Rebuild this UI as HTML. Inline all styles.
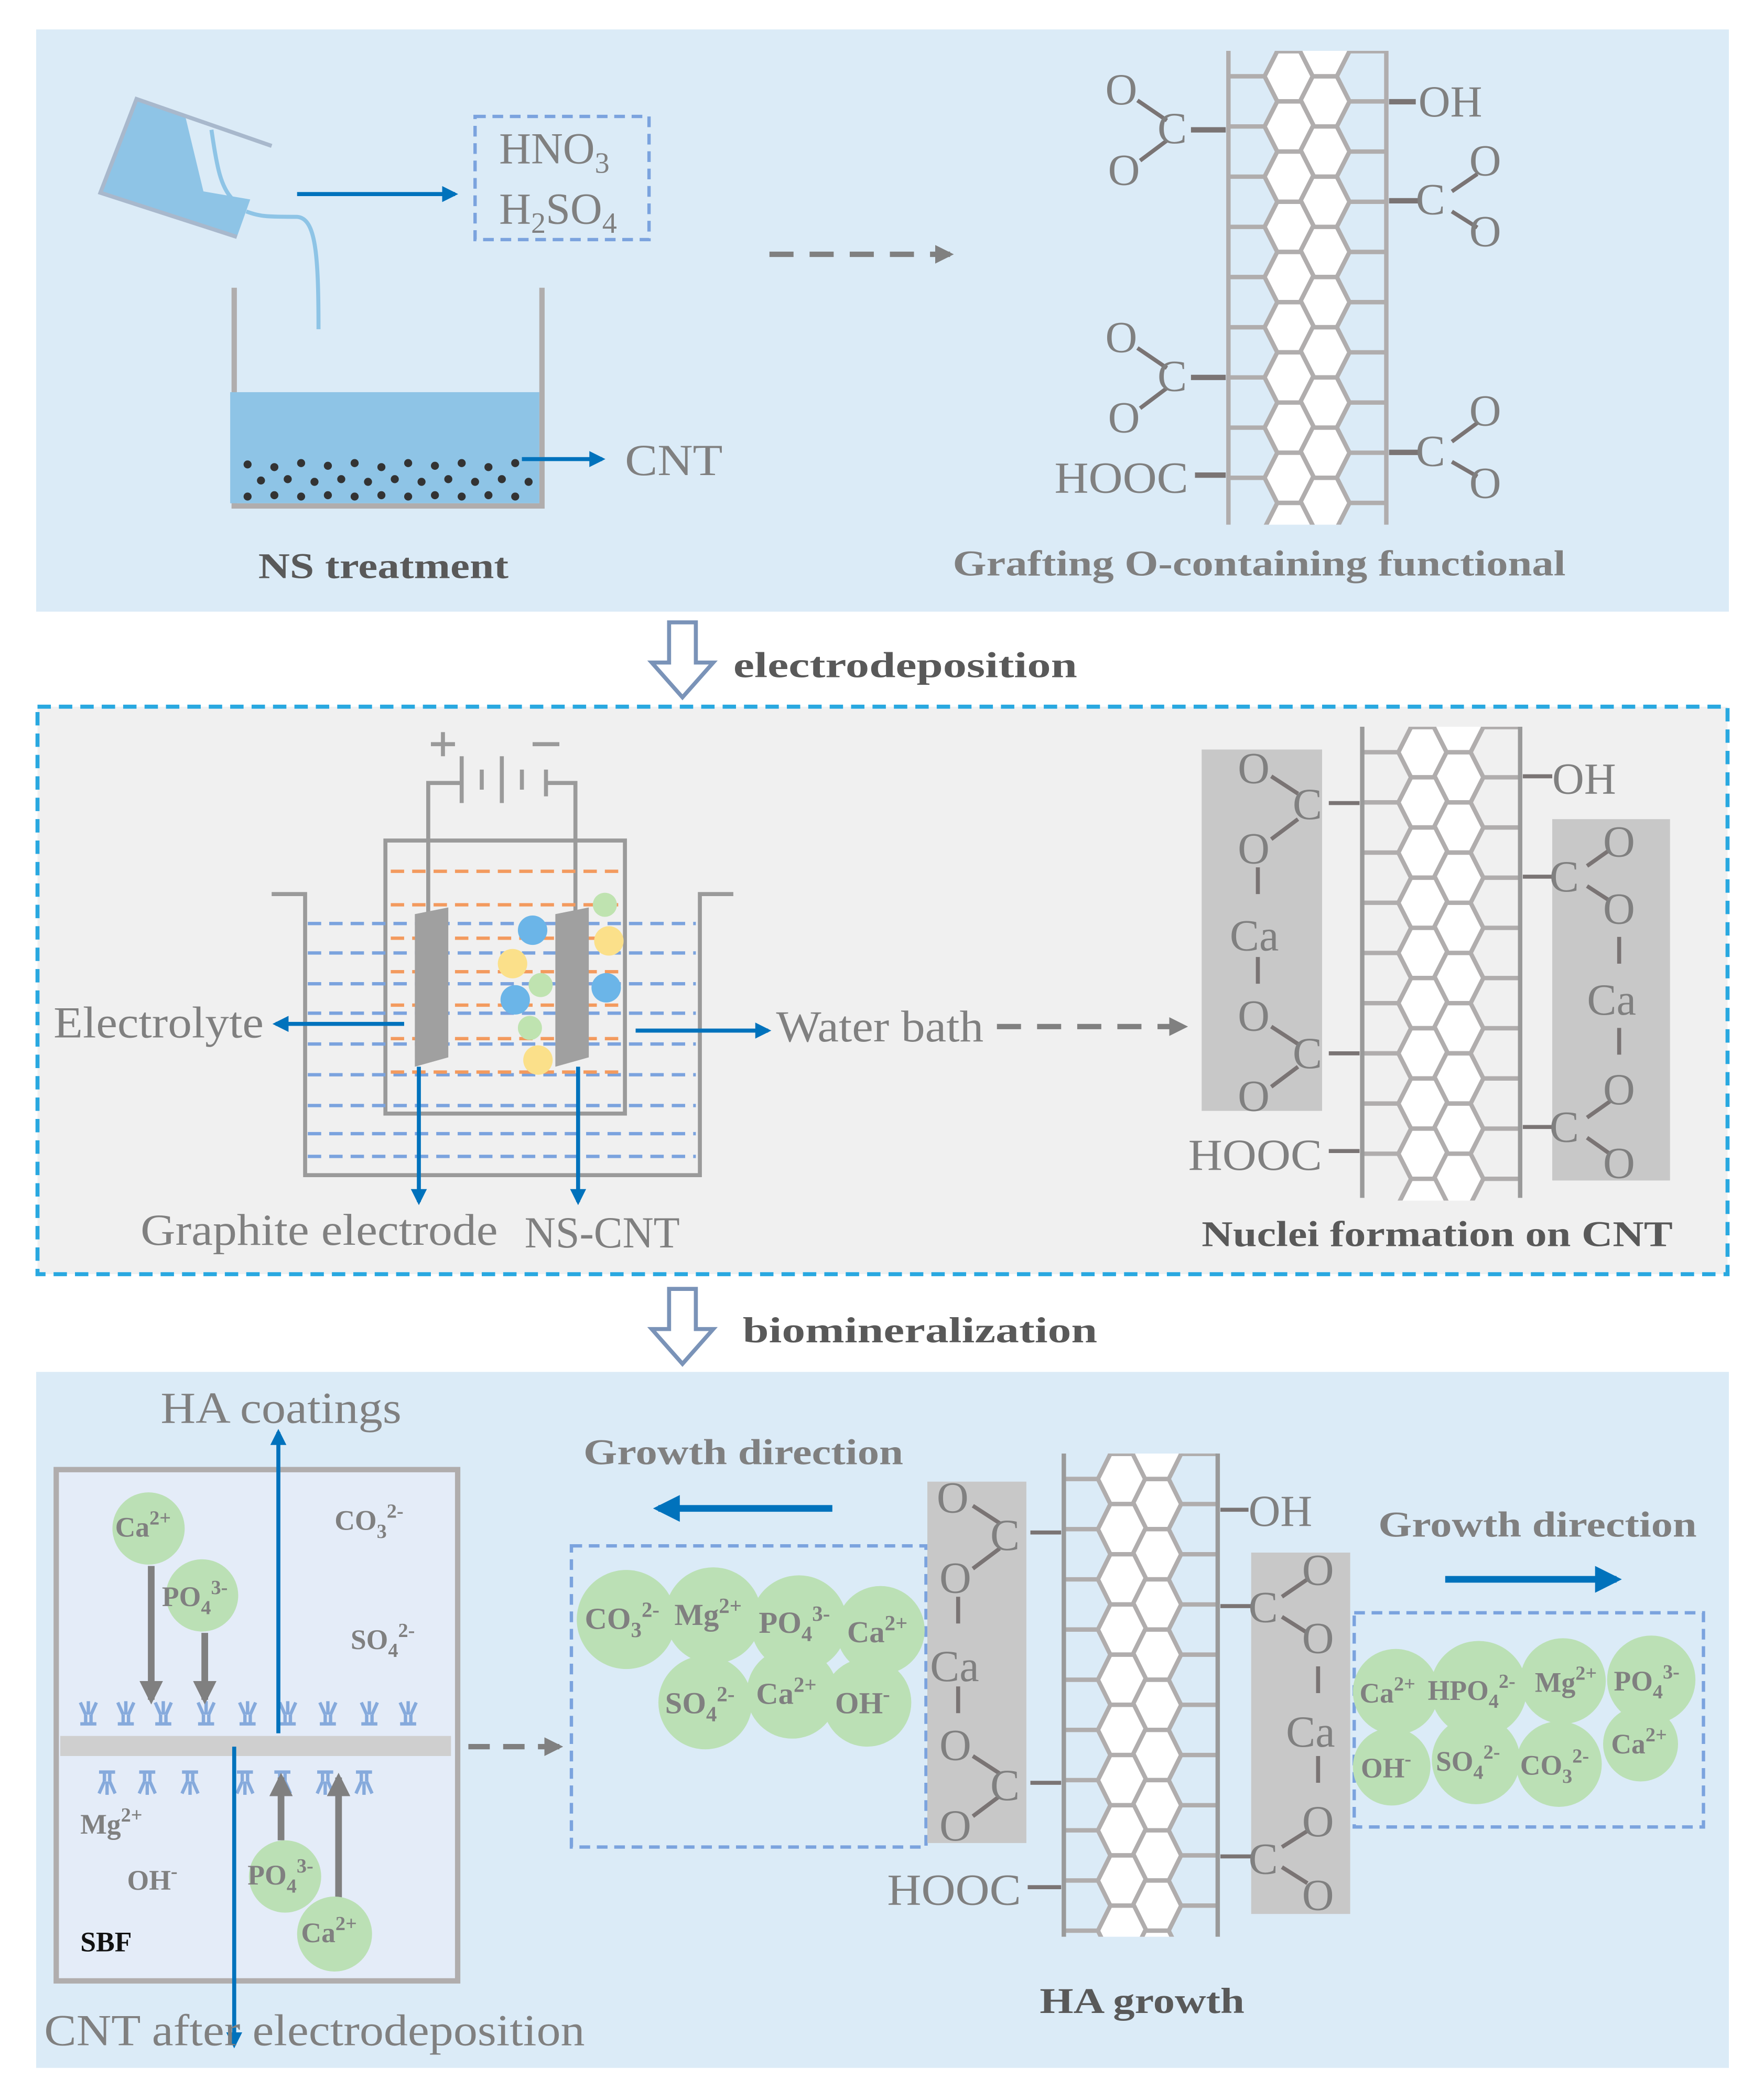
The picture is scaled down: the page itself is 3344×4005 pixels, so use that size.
<!DOCTYPE html>
<html><head><meta charset="utf-8"><style>html,body{margin:0;padding:0;background:#fff}svg{display:block}</style></head>
<body>
<svg width="3344" height="4005" viewBox="0 0 1310 1569" xmlns="http://www.w3.org/2000/svg" font-family="'Liberation Serif',serif">
<defs>
<g id="hp" fill="#fff" stroke="#b0adad" stroke-width="3.3">
<path d="M0,0 L27,0 M90.5,18.75 L118,18.75" fill="none"/>
<path d="M27,0 L36.5,-18.75 L54.5,-18.75 L64,0 L54.5,18.75 L36.5,18.75Z"/>
<path d="M53.5,18.75 L63,0 L81,0 L90.5,18.75 L81,37.5 L63,37.5Z"/>
</g>
<g id="tube">
<use href="#hp" y="0"/><use href="#hp" y="37.5"/><use href="#hp" y="75"/><use href="#hp" y="112.5"/><use href="#hp" y="150"/><use href="#hp" y="187.5"/><use href="#hp" y="225"/><use href="#hp" y="262.5"/><use href="#hp" y="300"/><use href="#hp" y="337.5"/><use href="#hp" y="375"/>
<use href="#hp" y="-37.5"/>
</g>
<clipPath id="c1"><rect x="900" y="38" width="150" height="354"/></clipPath>
<clipPath id="c2"><rect x="1005" y="543" width="150" height="354"/></clipPath>
<clipPath id="c3"><rect x="780" y="1086" width="150" height="361"/></clipPath>
<marker id="ab" viewBox="0 0 10 10" refX="8" refY="5" markerWidth="4" markerHeight="4" orient="auto"><path d="M0,0 L10,5 L0,10 Z" fill="#0072bc"/></marker>
<marker id="ag" viewBox="0 0 10 10" refX="8" refY="5" markerWidth="3.5" markerHeight="3.5" orient="auto"><path d="M0,0 L10,5 L0,10 Z" fill="#808080"/></marker>
<g id="rec" fill="none" stroke="#86aadc" stroke-width="2.5"><path d="M-6,-12 L-2,-3 M6,-12 L2,-3 M0,-13 L0,-3 M-2,-3 L-2,3 M2,-3 L2,3 M-6,4 L6,4"/></g>
</defs>
<g fill="#808080" font-size="33">
<!-- Panel 1 -->
<rect x="27" y="22" width="1265" height="435" fill="#dbebf7"/>
<polyline points="175,215 175,378 405,378 405,215" fill="none" stroke="#b0adad" stroke-width="4"/>
<rect x="172" y="293" width="231" height="83" fill="#8ec4e6"/>
<g fill="#333">
<circle cx="185" cy="347" r="3"/><circle cx="205" cy="349" r="3"/><circle cx="225" cy="346" r="3"/><circle cx="245" cy="348" r="3"/><circle cx="265" cy="346" r="3"/><circle cx="285" cy="349" r="3"/><circle cx="305" cy="346" r="3"/><circle cx="325" cy="348" r="3"/><circle cx="345" cy="346" r="3"/><circle cx="365" cy="349" r="3"/><circle cx="385" cy="346" r="3"/>
<circle cx="195" cy="359" r="3"/><circle cx="215" cy="358" r="3"/><circle cx="235" cy="360" r="3"/><circle cx="255" cy="358" r="3"/><circle cx="275" cy="360" r="3"/><circle cx="295" cy="358" r="3"/><circle cx="315" cy="360" r="3"/><circle cx="335" cy="358" r="3"/><circle cx="355" cy="360" r="3"/><circle cx="375" cy="358" r="3"/><circle cx="395" cy="360" r="3"/>
<circle cx="185" cy="371" r="3"/><circle cx="205" cy="370" r="3"/><circle cx="225" cy="371" r="3"/><circle cx="245" cy="370" r="3"/><circle cx="265" cy="371" r="3"/><circle cx="285" cy="370" r="3"/><circle cx="305" cy="371" r="3"/><circle cx="325" cy="370" r="3"/><circle cx="345" cy="371" r="3"/><circle cx="365" cy="370" r="3"/><circle cx="385" cy="371" r="3"/>
</g>
<polygon points="102,75 138,85 152,143 187,149 177,177 75,144" fill="#8ec4e6"/>
<polyline points="203,109 102,74 75,144 177,177" fill="none" stroke="#a8b8cc" stroke-width="3"/>
<path d="M158,97 C162,125 165,140 174,149" fill="none" stroke="#8ec4e6" stroke-width="3"/>
<path d="M184,158 C195,162 200,162 222,162 C236,163 238,190 238,246" fill="none" stroke="#8ec4e6" stroke-width="3"/>
<line x1="222" y1="145" x2="340" y2="145" stroke="#0072bc" stroke-width="3" marker-end="url(#ab)"/>
<rect x="355" y="87" width="130" height="92" fill="none" stroke="#7ba3de" stroke-width="2.5" stroke-dasharray="8,5"/>
<text x="373" y="122">HNO<tspan font-size="22" dy="7">3</tspan></text>
<text x="373" y="167">H<tspan font-size="22" dy="7">2</tspan><tspan dy="-7">SO</tspan><tspan font-size="22" dy="7">4</tspan></text>
<line x1="390" y1="343" x2="450" y2="343" stroke="#0072bc" stroke-width="3" marker-end="url(#ab)"/>
<text x="467" y="355" textLength="73" lengthAdjust="spacingAndGlyphs">CNT</text>
<text x="193" y="432" font-size="27" font-weight="bold" fill="#595959" textLength="187" lengthAdjust="spacingAndGlyphs">NS treatment</text>
<line x1="575" y1="190" x2="710" y2="190" stroke="#808080" stroke-width="4" stroke-dasharray="18,12" marker-end="url(#ag)"/>
<g clip-path="url(#c1)"><use href="#tube" x="918" y="57"/></g>
<line x1="918" y1="38" x2="918" y2="392" stroke="#b0adad" stroke-width="3.3"/>
<line x1="1036" y1="38" x2="1036" y2="392" stroke="#b0adad" stroke-width="3.3"/>
<g stroke="#7a7474" stroke-width="4">
<line x1="890" y1="97" x2="916" y2="97"/><line x1="1038" y1="76" x2="1058" y2="76"/><line x1="1038" y1="150" x2="1060" y2="150"/>
<line x1="890" y1="282" x2="916" y2="282"/><line x1="1038" y1="338" x2="1060" y2="338"/><line x1="893" y1="355" x2="916" y2="355"/>
</g>
<g stroke="#7a7474" stroke-width="3">
<line x1="850" y1="75" x2="872" y2="90"/><line x1="852" y1="120" x2="872" y2="105"/>
<line x1="850" y1="260" x2="872" y2="275"/><line x1="852" y1="305" x2="872" y2="290"/>
<line x1="1085" y1="143" x2="1104" y2="130"/><line x1="1085" y1="158" x2="1104" y2="170"/>
<line x1="1085" y1="330" x2="1104" y2="316"/><line x1="1085" y1="345" x2="1104" y2="356"/>
</g>
<text x="826" y="78">O</text><text x="865" y="107">C</text><text x="828" y="138">O</text>
<text x="1060" y="87">OH</text>
<text x="1058" y="160">C</text><text x="1098" y="131">O</text><text x="1098" y="184">O</text>
<text x="826" y="263">O</text><text x="865" y="292">C</text><text x="828" y="323">O</text>
<text x="1058" y="348">C</text><text x="1098" y="318">O</text><text x="1098" y="372">O</text>
<text x="788" y="368" textLength="100" lengthAdjust="spacingAndGlyphs">HOOC</text>
<text x="712" y="430" font-size="27" font-weight="bold" fill="#808080" textLength="458" lengthAdjust="spacingAndGlyphs">Grafting O-containing functional</text>

<!-- transition arrows -->
<polygon points="500,465 520,465 520,495 533,495 510,521 487,495 500,495" fill="#fff" stroke="#7a93b8" stroke-width="3"/>
<text x="548" y="506" font-size="27" font-weight="bold" fill="#595959" textLength="257" lengthAdjust="spacingAndGlyphs">electrodeposition</text>
<polygon points="500,963 520,963 520,993 533,993 510,1019 487,993 500,993" fill="#fff" stroke="#7a93b8" stroke-width="3"/>
<text x="555" y="1003" font-size="27" font-weight="bold" fill="#595959" textLength="265" lengthAdjust="spacingAndGlyphs">biomineralization</text>

<!-- Panel 2 -->
<rect x="28" y="528" width="1263" height="424" fill="#f0f0f0" stroke="#29a8e0" stroke-width="3" stroke-dasharray="10,6"/>
<g stroke="#9a9a9a" stroke-width="3" fill="none">
<polyline points="320,683 320,585 345,585"/><polyline points="430,683 430,585 408,585"/>
<line x1="345" y1="565" x2="345" y2="600"/><line x1="360" y1="575" x2="360" y2="590"/><line x1="375" y1="565" x2="375" y2="600"/><line x1="390" y1="575" x2="390" y2="590"/><line x1="408" y1="575" x2="408" y2="595"/>
<line x1="322" y1="556" x2="340" y2="556"/><line x1="331" y1="547" x2="331" y2="565"/><line x1="398" y1="556" x2="418" y2="556"/>
<rect x="288" y="628" width="179" height="204"/>
<polyline points="203,668 228,668 228,878 523,878 523,668 548,668"/>
</g>
<g stroke="#7ba3de" stroke-width="2.5" stroke-dasharray="10,6">
<line x1="230" y1="690" x2="520" y2="690"/><line x1="230" y1="712" x2="520" y2="712"/><line x1="230" y1="735" x2="520" y2="735"/><line x1="230" y1="757" x2="520" y2="757"/><line x1="230" y1="780" x2="520" y2="780"/><line x1="230" y1="803" x2="520" y2="803"/><line x1="230" y1="826" x2="520" y2="826"/><line x1="230" y1="847" x2="520" y2="847"/><line x1="230" y1="864" x2="520" y2="864"/>
</g>
<g stroke="#f39a5e" stroke-width="2.5" stroke-dasharray="10,6">
<line x1="292" y1="651" x2="464" y2="651"/><line x1="292" y1="676" x2="464" y2="676"/><line x1="292" y1="701" x2="464" y2="701"/><line x1="292" y1="726" x2="464" y2="726"/><line x1="292" y1="751" x2="464" y2="751"/><line x1="292" y1="776" x2="464" y2="776"/><line x1="292" y1="801" x2="464" y2="801"/>
</g>
<polygon points="310,683 335,678 335,790 310,797" fill="#a0a0a0"/>
<polygon points="415,683 440,678 440,790 415,797" fill="#a0a0a0"/>
<circle cx="398" cy="695" r="11" fill="#6bb5e8"/><circle cx="383" cy="720" r="11" fill="#fbe08a"/><circle cx="385" cy="747" r="11" fill="#6bb5e8"/><circle cx="404" cy="736" r="9" fill="#bfe3b0"/><circle cx="396" cy="768" r="9" fill="#bfe3b0"/><circle cx="402" cy="792" r="11" fill="#fbe08a"/>
<circle cx="452" cy="676" r="9" fill="#bfe3b0"/><circle cx="455" cy="703" r="11" fill="#fbe08a"/><circle cx="453" cy="738" r="11" fill="#6bb5e8"/>
<line x1="302" y1="765" x2="206" y2="765" stroke="#0072bc" stroke-width="3" marker-end="url(#ab)"/>
<text x="40" y="775" textLength="157" lengthAdjust="spacingAndGlyphs">Electrolyte</text>
<line x1="475" y1="770" x2="574" y2="770" stroke="#0072bc" stroke-width="3" marker-end="url(#ab)"/>
<text x="580" y="778" textLength="155" lengthAdjust="spacingAndGlyphs">Water bath</text>
<line x1="313" y1="797" x2="313" y2="898" stroke="#0072bc" stroke-width="3" marker-end="url(#ab)"/>
<line x1="432" y1="797" x2="432" y2="898" stroke="#0072bc" stroke-width="3" marker-end="url(#ab)"/>
<text x="105" y="930" textLength="267" lengthAdjust="spacingAndGlyphs">Graphite electrode</text><text x="392" y="932" textLength="116" lengthAdjust="spacingAndGlyphs">NS-CNT</text>
<line x1="745" y1="767" x2="885" y2="767" stroke="#808080" stroke-width="4" stroke-dasharray="18,12" marker-end="url(#ag)"/>
<rect x="898" y="560" width="90" height="270" fill="#c8c8c8"/>
<rect x="1160" y="612" width="88" height="270" fill="#c8c8c8"/>
<g clip-path="url(#c2)"><use href="#tube" x="1018" y="562"/></g>
<line x1="1018" y1="543" x2="1018" y2="895" stroke="#9a9a9a" stroke-width="3.3"/>
<line x1="1136" y1="543" x2="1136" y2="895" stroke="#9a9a9a" stroke-width="3.3"/>
<g stroke="#7a7474" stroke-width="3">
<line x1="993" y1="600" x2="1016" y2="600"/><line x1="993" y1="787" x2="1016" y2="787"/><line x1="993" y1="860" x2="1016" y2="860"/>
<line x1="1138" y1="580" x2="1160" y2="580"/><line x1="1138" y1="655" x2="1162" y2="655"/><line x1="1138" y1="842" x2="1162" y2="842"/>
<line x1="950" y1="580" x2="970" y2="593"/><line x1="950" y1="627" x2="970" y2="612"/>
<line x1="950" y1="767" x2="970" y2="780"/><line x1="950" y1="812" x2="970" y2="797"/>
<line x1="1186" y1="647" x2="1203" y2="635"/><line x1="1186" y1="662" x2="1203" y2="673"/>
<line x1="1186" y1="835" x2="1203" y2="823"/><line x1="1186" y1="850" x2="1203" y2="862"/>
<line x1="940" y1="648" x2="940" y2="668"/><line x1="940" y1="715" x2="940" y2="735"/>
<line x1="1210" y1="700" x2="1210" y2="720"/><line x1="1210" y1="768" x2="1210" y2="788"/>
</g>
<text x="925" y="585">O</text><text x="966" y="612">C</text><text x="925" y="645">O</text>
<text x="919" y="710">Ca</text><text x="925" y="770">O</text><text x="966" y="798">C</text><text x="925" y="830">O</text>
<text x="1160" y="593">OH</text><text x="1198" y="640">O</text><text x="1158" y="666">C</text><text x="1198" y="690">O</text>
<text x="1186" y="758">Ca</text><text x="1198" y="825">O</text><text x="1158" y="853">C</text><text x="1198" y="880">O</text>
<text x="888" y="874" textLength="100" lengthAdjust="spacingAndGlyphs">HOOC</text>
<text x="898" y="931" font-size="27" font-weight="bold" fill="#595959" textLength="352" lengthAdjust="spacingAndGlyphs">Nuclei formation on CNT</text>

<!-- Panel 3 -->
<rect x="27" y="1025" width="1265" height="520" fill="#dbebf7"/>
<rect x="42" y="1098" width="300" height="382" fill="#e4ecf8" stroke="#b0adad" stroke-width="4"/>
<rect x="45" y="1297" width="292" height="15" fill="#cfcfcf"/>
<g>
<use href="#rec" x="66" y="1284"/><use href="#rec" x="94" y="1284"/><use href="#rec" x="122" y="1284"/><use href="#rec" x="154" y="1284"/><use href="#rec" x="185" y="1284"/><use href="#rec" x="215" y="1284"/><use href="#rec" x="245" y="1284"/><use href="#rec" x="276" y="1284"/><use href="#rec" x="305" y="1284"/>
</g>
<g transform="translate(0,2638) scale(1,-1)">
<use href="#rec" x="80" y="1310"/><use href="#rec" x="110" y="1310"/><use href="#rec" x="142" y="1310"/><use href="#rec" x="183" y="1310"/><use href="#rec" x="211" y="1310"/><use href="#rec" x="243" y="1310"/><use href="#rec" x="272" y="1310"/>
</g>
<line x1="113" y1="1170" x2="113" y2="1270" stroke="#808080" stroke-width="5" marker-end="url(#ag)"/>
<line x1="153" y1="1220" x2="153" y2="1270" stroke="#808080" stroke-width="5" marker-end="url(#ag)"/>
<line x1="210" y1="1375" x2="210" y2="1328" stroke="#808080" stroke-width="5" marker-end="url(#ag)"/>
<line x1="253" y1="1418" x2="253" y2="1328" stroke="#808080" stroke-width="5" marker-end="url(#ag)"/>
<line x1="208" y1="1295" x2="208" y2="1070" stroke="#0072bc" stroke-width="3" marker-end="url(#ab)"/>
<line x1="175" y1="1305" x2="175" y2="1528" stroke="#0072bc" stroke-width="3" marker-end="url(#ab)"/>
<text x="120" y="1063" textLength="180" lengthAdjust="spacingAndGlyphs">HA coatings</text>
<text x="33" y="1528" textLength="404" lengthAdjust="spacingAndGlyphs">CNT after electrodeposition</text>
<g fill="#bbe0b5">
<circle cx="111" cy="1142" r="27"/><circle cx="151" cy="1192" r="27"/><circle cx="213" cy="1402" r="27"/><circle cx="250" cy="1445" r="28"/>
</g>
<g font-size="21" font-weight="bold">
<text x="86" y="1148">Ca<tspan font-size="15" dy="-9">2+</tspan></text>
<text x="121" y="1200">PO<tspan font-size="15" dy="6">4</tspan><tspan font-size="15" dy="-15">3-</tspan></text>
<text x="185" y="1408">PO<tspan font-size="15" dy="6">4</tspan><tspan font-size="15" dy="-15">3-</tspan></text>
<text x="225" y="1451">Ca<tspan font-size="15" dy="-9">2+</tspan></text>
<text x="250" y="1143">CO<tspan font-size="15" dy="6">3</tspan><tspan font-size="15" dy="-15">2-</tspan></text>
<text x="262" y="1232">SO<tspan font-size="15" dy="6">4</tspan><tspan font-size="15" dy="-15">2-</tspan></text>
<text x="60" y="1370">Mg<tspan font-size="15" dy="-9">2+</tspan></text>
<text x="95" y="1412">OH<tspan font-size="15" dy="-9">-</tspan></text>
<text x="60" y="1458" fill="#111">SBF</text>
</g>
<line x1="350" y1="1305" x2="418" y2="1305" stroke="#808080" stroke-width="4" stroke-dasharray="16,10" marker-end="url(#ag)"/>
<rect x="427" y="1155" width="265" height="225" fill="none" stroke="#7ba3de" stroke-width="2.5" stroke-dasharray="8,5"/>
<g fill="#bbe0b5">
<circle cx="468" cy="1210" r="37"/><circle cx="533" cy="1207" r="36"/><circle cx="597" cy="1213" r="36"/><circle cx="658" cy="1218" r="33"/>
<circle cx="527" cy="1272" r="35"/><circle cx="592" cy="1265" r="34"/><circle cx="648" cy="1272" r="33"/>
</g>
<g font-size="23" font-weight="bold">
<text x="437" y="1217">CO<tspan font-size="16" dy="6">3</tspan><tspan font-size="16" dy="-15">2-</tspan></text>
<text x="504" y="1214">Mg<tspan font-size="16" dy="-9">2+</tspan></text>
<text x="567" y="1220">PO<tspan font-size="16" dy="6">4</tspan><tspan font-size="16" dy="-15">3-</tspan></text>
<text x="633" y="1227">Ca<tspan font-size="16" dy="-9">2+</tspan></text>
<text x="497" y="1280">SO<tspan font-size="16" dy="6">4</tspan><tspan font-size="16" dy="-15">2-</tspan></text>
<text x="565" y="1273">Ca<tspan font-size="16" dy="-9">2+</tspan></text>
<text x="624" y="1280">OH<tspan font-size="16" dy="-9">-</tspan></text>
</g>
<text x="436" y="1094" font-size="27" font-weight="bold" textLength="239" lengthAdjust="spacingAndGlyphs">Growth direction</text>
<line x1="622" y1="1127" x2="492" y2="1127" stroke="#0072bc" stroke-width="5" marker-end="url(#ab)"/>
<rect x="693" y="1107" width="74" height="270" fill="#c8c8c8"/>
<rect x="935" y="1160" width="74" height="270" fill="#c8c8c8"/>
<g clip-path="url(#c3)"><use href="#tube" x="794" y="1105" transform="translate(794,0) scale(0.98,1) translate(-794,0)"/></g>
<line x1="795" y1="1086" x2="795" y2="1447" stroke="#9a9a9a" stroke-width="3.3"/>
<line x1="910" y1="1086" x2="910" y2="1447" stroke="#9a9a9a" stroke-width="3.3"/>
<g stroke="#7a7474" stroke-width="3">
<line x1="770" y1="1145" x2="793" y2="1145"/><line x1="770" y1="1332" x2="793" y2="1332"/><line x1="768" y1="1410" x2="793" y2="1410"/>
<line x1="912" y1="1128" x2="933" y2="1128"/><line x1="912" y1="1200" x2="935" y2="1200"/><line x1="912" y1="1387" x2="935" y2="1387"/>
<line x1="727" y1="1125" x2="747" y2="1138"/><line x1="727" y1="1172" x2="747" y2="1157"/>
<line x1="727" y1="1312" x2="747" y2="1325"/><line x1="727" y1="1357" x2="747" y2="1342"/>
<line x1="958" y1="1193" x2="977" y2="1180"/><line x1="958" y1="1208" x2="977" y2="1220"/>
<line x1="958" y1="1380" x2="977" y2="1368"/><line x1="958" y1="1395" x2="977" y2="1407"/>
<line x1="716" y1="1193" x2="716" y2="1213"/><line x1="716" y1="1260" x2="716" y2="1280"/>
<line x1="985" y1="1245" x2="985" y2="1265"/><line x1="985" y1="1312" x2="985" y2="1332"/>
</g>
<text x="700" y="1130">O</text><text x="740" y="1158">C</text><text x="702" y="1190">O</text>
<text x="695" y="1256">Ca</text><text x="702" y="1315">O</text><text x="740" y="1345">C</text><text x="702" y="1375">O</text>
<text x="933" y="1140">OH</text><text x="973" y="1184">O</text><text x="933" y="1212">C</text><text x="973" y="1235">O</text>
<text x="961" y="1305">Ca</text><text x="973" y="1372">O</text><text x="933" y="1400">C</text><text x="973" y="1427">O</text>
<text x="663" y="1423" textLength="100" lengthAdjust="spacingAndGlyphs">HOOC</text>
<text x="1030" y="1148" font-size="27" font-weight="bold" textLength="238" lengthAdjust="spacingAndGlyphs">Growth direction</text>
<line x1="1080" y1="1180" x2="1208" y2="1180" stroke="#0072bc" stroke-width="5" marker-end="url(#ab)"/>
<rect x="1012" y="1205" width="261" height="160" fill="none" stroke="#7ba3de" stroke-width="2.5" stroke-dasharray="8,5"/>
<g fill="#bbe0b5">
<circle cx="1043" cy="1264" r="32"/><circle cx="1105" cy="1262" r="36"/><circle cx="1168" cy="1256" r="32"/><circle cx="1234" cy="1255" r="33"/>
<circle cx="1040" cy="1320" r="29"/><circle cx="1103" cy="1315" r="33"/><circle cx="1165" cy="1318" r="32"/><circle cx="1226" cy="1303" r="28"/>
</g>
<g font-size="21" font-weight="bold">
<text x="1016" y="1272">Ca<tspan font-size="15" dy="-9">2+</tspan></text>
<text x="1067" y="1270">HPO<tspan font-size="15" dy="6">4</tspan><tspan font-size="15" dy="-15">2-</tspan></text>
<text x="1147" y="1264">Mg<tspan font-size="15" dy="-9">2+</tspan></text>
<text x="1206" y="1263">PO<tspan font-size="15" dy="6">4</tspan><tspan font-size="15" dy="-15">3-</tspan></text>
<text x="1017" y="1328">OH<tspan font-size="15" dy="-9">-</tspan></text>
<text x="1073" y="1323">SO<tspan font-size="15" dy="6">4</tspan><tspan font-size="15" dy="-15">2-</tspan></text>
<text x="1136" y="1326">CO<tspan font-size="15" dy="6">3</tspan><tspan font-size="15" dy="-15">2-</tspan></text>
<text x="1204" y="1310">Ca<tspan font-size="15" dy="-9">2+</tspan></text>
</g>
<text x="777" y="1504" font-size="27" font-weight="bold" fill="#595959" textLength="153" lengthAdjust="spacingAndGlyphs">HA growth</text>
</g>
</svg>
</body></html>
